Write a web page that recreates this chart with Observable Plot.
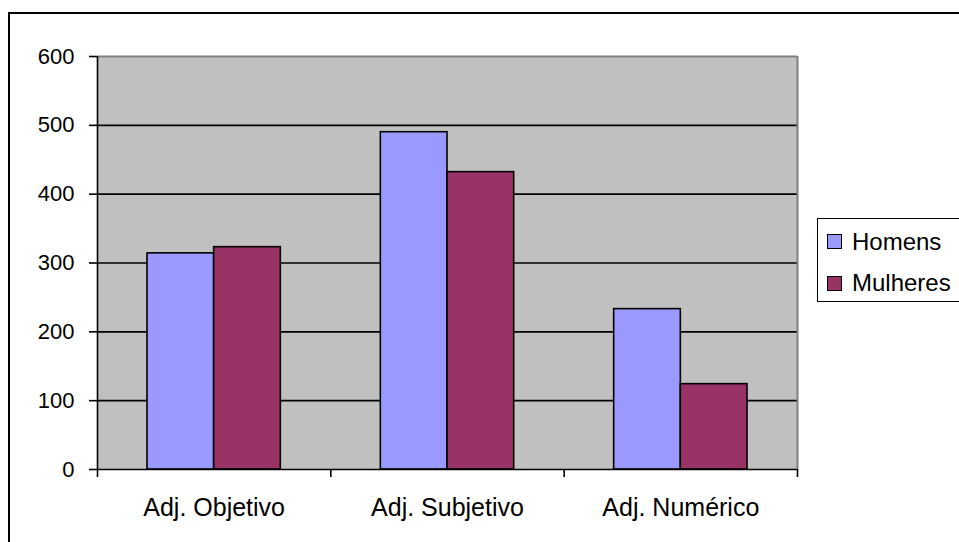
<!DOCTYPE html>
<html>
<head>
<meta charset="utf-8">
<script src="https://cdn.jsdelivr.net/npm/d3@7"></script>
<script src="https://cdn.jsdelivr.net/npm/@observablehq/plot@0.6"></script>
<style>
  html, body { margin: 0; padding: 0; background: #fff; }
  #wrap { position: relative; width: 959px; height: 542px; overflow: hidden; font-family: "Liberation Sans", Arial, sans-serif; }
  #border { position: absolute; left: 8px; top: 12px; width: 1000px; height: 600px; border-left: 2px solid #000; border-top: 2px solid #000; box-sizing: border-box; pointer-events: none; }
  #legend { position: absolute; left: 817px; top: 218px; width: 200px; height: 84px; border: 1.5px solid #000; box-sizing: border-box; background: #fff; }
  .sw { position: absolute; left: 9px; width: 15px; height: 15px; border: 1.5px solid #000; box-sizing: border-box; }
  .tx { position: absolute; left: 34px; font-size: 24px; line-height: 24px; color: #000; white-space: nowrap; }
</style>
</head>
<body>
<div id="wrap"></div>
<script>
const categories = ["Adj. Objetivo", "Adj. Subjetivo", "Adj. Numérico"];
const series = ["Homens", "Mulheres"];
const homens = [314, 490, 233];
const mulheres = [323, 432, 124];
const yTicks = [0, 100, 200, 300, 400, 500, 600];
const colors = ["#9999FF", "#993366"];

const values = [homens, mulheres];
const data = [];
categories.forEach((c, i) => series.forEach((s, j) => data.push({cat: c, ci: i, series: s, si: j, value: values[j][i]})));

// Excel layout: gap width 150% -> each category band = 3.5 bar widths
const bw = 1 / 3.5;
const barX1 = d => d.ci + 0.75 * bw + d.si * bw;
const barX2 = d => d.ci + 0.75 * bw + (d.si + 1) * bw;

const font = "Liberation Sans, Arial, sans-serif";

const chart = Plot.plot({
  width: 959,
  height: 542,
  marginLeft: 97,
  marginRight: 162,
  marginTop: 56,
  marginBottom: 73,
  style: {fontFamily: font, background: "transparent", overflow: "visible"},
  x: {domain: [0, categories.length], axis: null},
  y: {domain: [0, 600], axis: null},
  color: {domain: series, range: colors},
  marks: [
    Plot.frame({fill: "#C0C0C0"}),
    Plot.ruleY(yTicks.filter(t => t > 0 && t < 600), {stroke: "#000", strokeWidth: 1.6}),
    Plot.ruleY([600], {stroke: "#808080", strokeWidth: 2}),
    Plot.ruleX([categories.length], {stroke: "#808080", strokeWidth: 2}),
    Plot.rectY(data, {x1: barX1, x2: barX2, y1: 0, y2: "value", fill: "series", stroke: "#000", strokeWidth: 1.6}),
    Plot.ruleX([0], {stroke: "#000", strokeWidth: 1.6}),
    Plot.ruleY([0], {stroke: "#000", strokeWidth: 1.6}),
    Plot.axisY({ticks: yTicks, tickSize: 8, tickPadding: 15, fontSize: 22, stroke: "#000", strokeWidth: 1.6, color: "#000", label: null}),
    Plot.axisX({ticks: d3.range(categories.length + 1), tickSize: 8, tickFormat: () => "", stroke: "#000", strokeWidth: 1.6, label: null}),
    Plot.text(categories, {x: (d, i) => i + 0.5, y: 0, text: d => d, dy: 38, fontSize: 25, fill: "#000", fontFamily: font})
  ]
});

const wrap = document.getElementById("wrap");
wrap.appendChild(chart);
const border = document.createElement("div");
border.id = "border";
wrap.appendChild(border);

const legend = document.createElement("div");
legend.id = "legend";
const swTops = [15, 57];
const txTops = [11, 52];
series.forEach((s, j) => {
  const sw = document.createElement("div");
  sw.className = "sw";
  sw.style.top = swTops[j] + "px";
  sw.style.background = colors[j];
  const tx = document.createElement("div");
  tx.className = "tx";
  tx.style.top = txTops[j] + "px";
  tx.textContent = s;
  legend.appendChild(sw);
  legend.appendChild(tx);
});
wrap.appendChild(legend);
</script>
</body>
</html>
